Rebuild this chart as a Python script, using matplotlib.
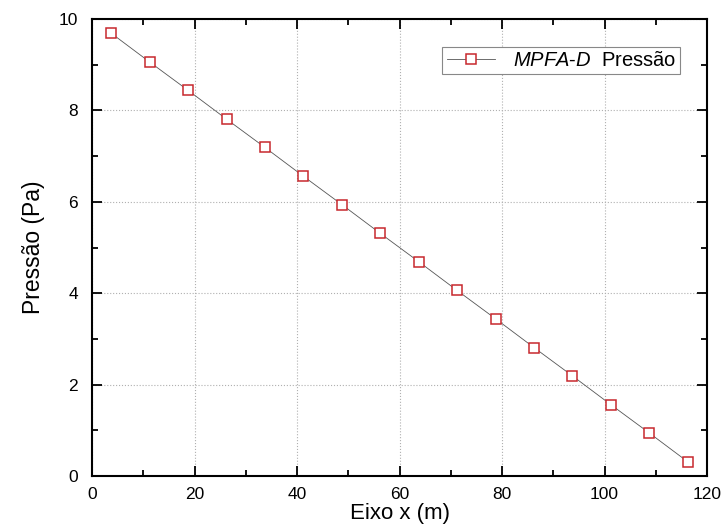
import matplotlib
matplotlib.use('Agg')
import matplotlib.pyplot as plt
from matplotlib.ticker import MultipleLocator

plt.rcParams['font.family'] = ['Liberation Sans', 'DejaVu Sans']
plt.rcParams['mathtext.fontset'] = 'custom'
plt.rcParams['mathtext.rm'] = 'Liberation Sans'
plt.rcParams['mathtext.it'] = 'Liberation Sans:italic'

# data
x_pos = [3.75, 11.25, 18.75, 26.25, 33.75, 41.25, 48.75, 56.25,
         63.75, 71.25, 78.75, 86.25, 93.75, 101.25, 108.75, 116.25]
pressao = [9.69, 9.06, 8.44, 7.81, 7.19, 6.56, 5.94, 5.31,
           4.69, 4.06, 3.44, 2.81, 2.19, 1.56, 0.94, 0.31]

fig = plt.figure(figsize=(7.21, 5.27), dpi=100)
ax = fig.add_axes([0.1276, 0.0968, 0.853, 0.867])

ax.plot(x_pos, pressao, color='#555555', lw=0.6, marker='s', markersize=7.5,
        markerfacecolor='white', markeredgecolor='#c8282d', markeredgewidth=1.1,
        label=r'$\mathit{MPFA}$-$\mathit{D}$  Pressão')

ax.set_xlim(0, 120)
ax.set_ylim(0, 10)
ax.xaxis.set_major_locator(MultipleLocator(20))
ax.xaxis.set_minor_locator(MultipleLocator(10))
ax.yaxis.set_major_locator(MultipleLocator(2))
ax.yaxis.set_minor_locator(MultipleLocator(1))
ax.tick_params(which='both', direction='in', top=True, right=True, labelsize=12.5, width=1.3)
ax.tick_params(which='major', length=7)
ax.tick_params(which='minor', length=4)
ax.tick_params(axis='x', pad=8)
ax.tick_params(axis='y', pad=10)
for s in ax.spines.values():
    s.set_linewidth(1.5)
ax.grid(True, which='major', linestyle=':', color='#b0b0b0', lw=0.8)

ax.set_xlabel('Eixo x (m)', fontsize=16, labelpad=1)
ax.set_ylabel('Pressão (Pa)', fontsize=16.5, labelpad=10)

leg = ax.legend(loc='upper right', bbox_to_anchor=(0.973, 0.96), fontsize=14.5,
                fancybox=False, edgecolor='#888888', framealpha=1,
                handlelength=2.4, borderpad=0.2, handletextpad=0.9)
leg.get_frame().set_linewidth(0.8)

fig.savefig('out.png', dpi=100)
